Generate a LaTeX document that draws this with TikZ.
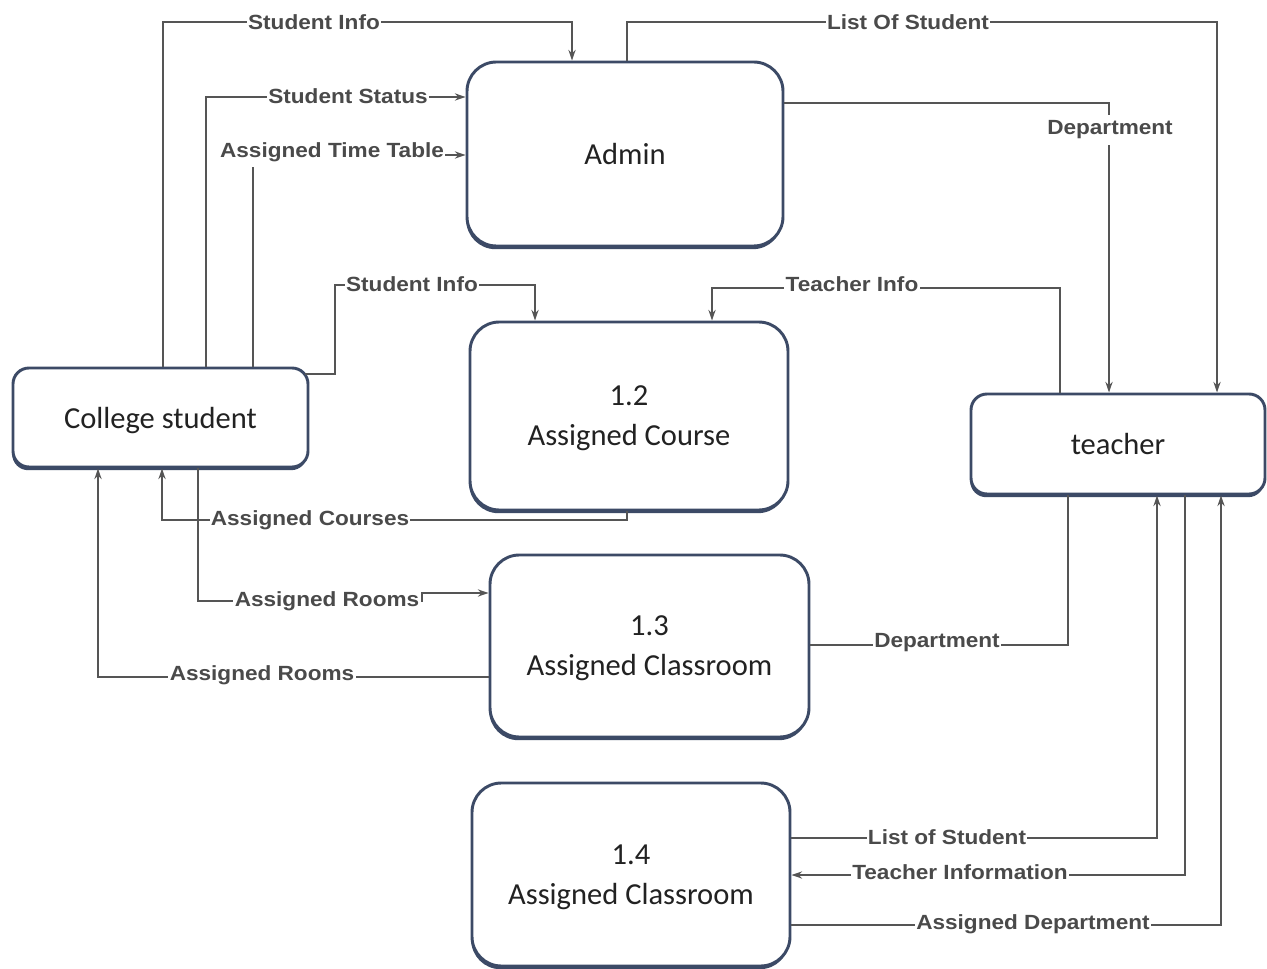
\documentclass[tikz,border=0pt]{standalone}
\usepackage{fontspec}
\setmainfont{Carlito}
\newfontfamily\lblfont[FakeStretch=1.1]{Liberation Sans}
\usetikzlibrary{arrows.meta,shadows}
\definecolor{boxc}{HTML}{3C4A66}
\definecolor{linec}{HTML}{555555}
\definecolor{lblc}{HTML}{4A4A4A}
\definecolor{txtc}{HTML}{222222}
\tikzset{
  proc/.style={draw=boxc, line width=2.2pt, fill=white, rounded corners=22pt,
    drop shadow={shadow xshift=-0.6pt, shadow yshift=-2.4pt, fill=boxc, opacity=1},
    align=center, text=txtc, font=\fontsize{22.9pt}{30pt}\selectfont, inner sep=0pt,
    text depth=-1pt},
  ent/.style={proc, rounded corners=12pt},
  flow/.style={draw=linec, line width=1.5pt},
  tip/.style={-{Stealth[length=8pt,width=5.4pt]}},
  lbl/.style={fill=white, inner sep=1pt, text=lblc, font=\lblfont\bfseries\fontsize{15.4pt}{17pt}\selectfont}
}
\begin{document}
\begin{tikzpicture}[x=0.75pt,y=-0.75pt]
\useasboundingbox[fill=white] (0,0) rectangle (1267,969);
% boxes
\node[proc, minimum width=237pt, minimum height=138pt] (admin) at (625,154) {Admin};
\node[proc, minimum width=238.5pt, minimum height=141pt] (course) at (629,416) {1.2\\Assigned Course};
\node[ent, minimum width=221.25pt, minimum height=74.25pt] (cs) at (160.5,417.5) {College student};
\node[ent, minimum width=220.5pt, minimum height=75pt] (teacher) at (1118,444) {teacher};
\node[proc, minimum width=239.25pt, minimum height=136.5pt] (room) at (649.5,646) {1.3\\Assigned Classroom};
\node[proc, minimum width=238.5pt, minimum height=137.25pt] (room2) at (631,874.5) {1.4\\Assigned Classroom};
% connectors
\draw[flow,tip] (163,0 |- cs.north) |- (572,22) -- (572,0 |- admin.north);
\draw[flow,tip] (206,0 |- cs.north) |- (admin.west |- 0,97);
\draw[flow,tip] (253,0 |- cs.north) |- (admin.west |- 0,155);
\draw[flow,tip] (627,0 |- admin.north) |- (1217,22) -- (1217,0 |- teacher.north);
\draw[flow,tip] (admin.east |- 0,103) -| (1109,0 |- teacher.north);
\draw[flow,tip] (305,374) -- (335,374) -- (335,285) -- (535,285) -- (535,0 |- course.north);
\draw[flow,tip] (1060,0 |- teacher.north) |- (712,288) -- (712,0 |- course.north);
\draw[flow,tip] (627,0 |- course.south) |- (162,520) -- (162,0 |- cs.south);
\draw[flow,tip] (198,0 |- cs.south) |- (422,601) -- (422,593) -- (room.west |- 0,593);
\draw[flow,tip] (room.west |- 0,677) -| (98,0 |- cs.south);
\draw[flow] (room.east |- 0,645) -| (1068,0 |- teacher.south);
\draw[flow,tip] (room2.east |- 0,838) -| (1157,0 |- teacher.south);
\draw[flow,tip] (1185,0 |- teacher.south) |- (room2.east |- 0,875);
\draw[flow,tip] (room2.east |- 0,925) -| (1221,0 |- teacher.south);
% labels
\node[lbl] (l1) at (314,22) {Student Info};
\node[lbl] (l2) at (348,96) {Student Status};
\node[lbl, inner ysep=4pt] (l3) at (332,152) {Assigned Time Table};
\node[lbl] (l4) at (908,22) {List Of Student};
\node[lbl, inner ysep=4pt] (l5) at (1110,130) {Department};
\node[lbl] (l6) at (412,284) {Student Info};
\node[lbl] (l7) at (852,284) {Teacher Info};
\node[lbl] (l8) at (310,520) {Assigned Courses};
\node[lbl] (l9) at (327,601) {Assigned Rooms};
\node[lbl] (l10) at (262,675) {Assigned Rooms};
\node[lbl] (l11) at (937,643) {Department};
\node[lbl] (l12) at (947,837) {List of Student};
\node[lbl] (l13) at (960,872) {Teacher Information};
\node[lbl] (l14) at (1033,924) {Assigned Department};
\end{tikzpicture}
\end{document}
